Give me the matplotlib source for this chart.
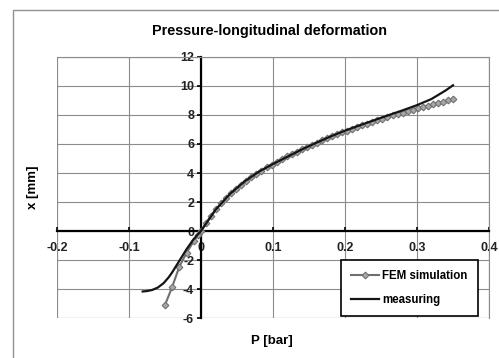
import matplotlib.pyplot as plt
from matplotlib.patches import Rectangle

plt.rcParams['font.family'] = ['Liberation Sans', 'DejaVu Sans']
plt.rcParams['axes.unicode_minus'] = False

# FEM simulation (P [bar], x [mm])
fem_p = [-0.050, -0.040, -0.030, -0.020, -0.010, -0.004,
         0.000, 0.007, 0.014, 0.021, 0.028, 0.035, 0.042, 0.049, 0.056, 0.063,
         0.070, 0.077, 0.084, 0.091, 0.098, 0.105, 0.112, 0.119, 0.126, 0.133,
         0.140, 0.147, 0.154, 0.161, 0.168, 0.175, 0.182, 0.189, 0.196, 0.203,
         0.210, 0.217, 0.224, 0.231, 0.238, 0.245, 0.252, 0.259, 0.266, 0.273,
         0.280, 0.287, 0.294, 0.301, 0.308, 0.315, 0.322, 0.329, 0.336, 0.343, 0.350]
fem_x = [-5.10, -3.85, -2.45, -1.50, -0.70, -0.25,
         0.00, 0.55, 1.05, 1.50, 1.90, 2.25, 2.60, 2.90, 3.18, 3.45,
         3.70, 3.93, 4.15, 4.38, 4.58, 4.78, 4.96, 5.14, 5.31, 5.48,
         5.64, 5.80, 5.95, 6.10, 6.25, 6.39, 6.53, 6.66, 6.80, 6.92,
         7.05, 7.17, 7.29, 7.41, 7.53, 7.64, 7.75, 7.86, 7.97, 8.07,
         8.17, 8.27, 8.37, 8.46, 8.55, 8.64, 8.73, 8.82, 8.91, 9.00, 9.08]

# measuring
meas_p = [-0.081, -0.075, -0.068, -0.060, -0.052, -0.045, -0.040, -0.035, -0.030,
          -0.020, -0.010, 0.000, 0.020, 0.040, 0.060, 0.080, 0.100, 0.120, 0.140,
          0.160, 0.180, 0.200, 0.220, 0.240, 0.260, 0.280, 0.300, 0.320, 0.340, 0.350]
meas_x = [-4.17, -4.14, -4.07, -3.90, -3.60, -3.20, -2.85, -2.45, -2.05,
          -1.25, -0.55, 0.00, 1.45, 2.55, 3.40, 4.08, 4.62, 5.12, 5.62,
          6.08, 6.52, 6.92, 7.28, 7.63, 7.98, 8.32, 8.68, 9.10, 9.70, 10.05]

x_ticks = [-0.2, -0.1, 0, 0.1, 0.2, 0.3, 0.4]
x_labels = ['-0.2', '-0.1', '0', '0.1', '0.2', '0.3', '0.4']
y_ticks = [-6, -4, -2, 0, 2, 4, 6, 8, 10, 12]
y_labels = ['-6', '-4', '-2', '0', '2', '4', '6', '8', '10', '12']

fig = plt.figure(figsize=(4.99, 3.58), dpi=100)
ax = fig.add_axes([0.1142, 0.1117, 0.8658, 0.7291])

# outer chart frame (only left and top edges are visible)
fig.patches.append(Rectangle((13 / 499, -0.1), 1.2, 1.1 - 10 / 358,
                             transform=fig.transFigure, fill=False,
                             edgecolor='#909090', linewidth=1.0))

ax.plot(fem_p, fem_x, color='#707070', linewidth=1.5, marker='D', markersize=3.4,
        markerfacecolor='#a8a8a8', markeredgecolor='#707070', markeredgewidth=0.8,
        label='FEM simulation', zorder=3)
ax.plot(meas_p, meas_x, color='#151515', linewidth=1.6, label='measuring', zorder=4)

ax.set_xlim(-0.2, 0.4)
ax.set_ylim(-6, 12)
ax.set_xticks(x_ticks)
ax.set_xticklabels(x_labels)
ax.set_yticks(y_ticks)
ax.set_yticklabels(y_labels)
ax.grid(True, color='#8c8c8c', linewidth=0.8)
ax.set_axisbelow(True)

for s in ['top', 'right']:
    ax.spines[s].set_color('#8c8c8c')
    ax.spines[s].set_linewidth(0.8)
ax.spines['left'].set_position(('data', 0))
ax.spines['bottom'].set_position(('data', 0))
ax.spines['left'].set_linewidth(1.6)
ax.spines['bottom'].set_linewidth(1.6)
ax.add_patch(Rectangle((0, 0), 1, 1, transform=ax.transAxes, fill=False,
                       edgecolor='#8c8c8c', linewidth=0.8, zorder=0))

ax.tick_params(axis='both', labelsize=9, width=1.2, length=3)
ax.tick_params(axis='x', direction='in', pad=8)
ax.tick_params(axis='y', direction='out', pad=2)
for lab in ax.get_xticklabels() + ax.get_yticklabels():
    lab.set_fontweight('bold')
    lab.set_color('#222222')

fig.text(269 / 499, 1 - 31 / 358, 'Pressure-longitudinal deformation', fontsize=10.4,
         fontweight='bold', ha='center', va='center')
fig.text(272 / 499, 1 - 341 / 358, 'P [bar]', fontsize=9.5, fontweight='bold',
         ha='center', va='center')
fig.text(33 / 499, 1 - 187 / 358, 'x [mm]', fontsize=9.5, fontweight='bold',
         ha='center', va='center', rotation=90)

leg = ax.legend(loc='lower right', bbox_to_anchor=(478 / 499, 1 - 316 / 358),
                bbox_transform=fig.transFigure, borderaxespad=0, fancybox=False,
                framealpha=1, edgecolor='black', handlelength=2.4, handletextpad=0.3,
                borderpad=0.9, labelspacing=1.0, prop={'weight': 'bold', 'size': 8.3})
leg.get_frame().set_linewidth(1.2)

fig.savefig('out.png', dpi=100)
